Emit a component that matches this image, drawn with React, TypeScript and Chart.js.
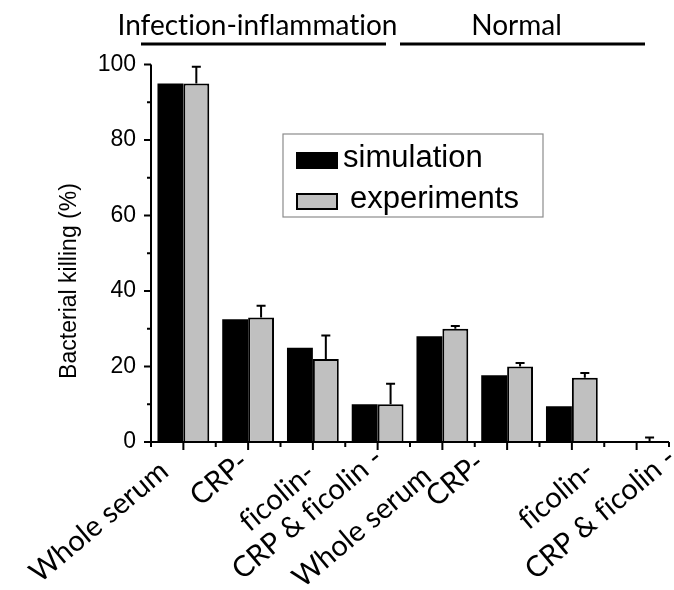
import React, { useEffect, useRef } from "react";
import { Chart, registerables } from "chart.js";

Chart.register(...registerables);

// Serum conditions, shown twice: infection-inflammation, then normal
const categories = [
  "Whole serum",
  "CRP-",
  "ficolin-",
  "CRP & ficolin -",
  "Whole serum",
  "CRP-",
  "ficolin-",
  "CRP & ficolin -",
];

// Bacterial killing (%)
const simulation = [95, 32.5, 25, 10, 28, 17.7, 9.5, 0];
const experiments = [95, 33, 22, 10, 30, 20, 17, 0];
const experimentsError = [4.4, 3.1, 6.2, 5.4, 0.7, 0.9, 1.3, 1.2];

const groups = [
  { label: "Infection-inflammation", first: 0, last: 3 },
  { label: "Normal", first: 4, last: 7 },
];

const yMajorTicks = [0, 20, 40, 60, 80, 100];
const yMinorTicks = [10, 30, 50, 70, 90];
const yTitle = "Bacterial killing (%)";

// slanted category labels: right end of each label, relative to its tick
const labelDx = [-19, -4, -2, 1, -15, -27, 18, 35];
const labelDy = [25, 16, 27, 12, 30, 17, 25, 12];
const labelAngle = 40;

const LABEL_FONT = "Lato, 'Open Sans', sans-serif";
const ARIAL = "'Liberation Sans', Arial, sans-serif";

const decorPlugin = {
  id: "figureDecor",
  afterDatasetsDraw(chart: any) {
    const { ctx, chartArea } = chart;
    const xs = chart.scales.x;
    const ys = chart.scales.y;
    const n = categories.length;
    const catW = (xs.right - xs.left) / n;

    ctx.save();
    ctx.strokeStyle = "#000";
    ctx.fillStyle = "#000";
    ctx.lineCap = "butt";

    // error bars (upper half only) on the experimental bars
    const meta = chart.getDatasetMeta(1);
    ctx.lineWidth = 2;
    meta.data.forEach((bar: any, i: number) => {
      const v = experiments[i];
      const yTop = ys.getPixelForValue(v + experimentsError[i]);
      const yBar = ys.getPixelForValue(v);
      ctx.beginPath();
      ctx.moveTo(bar.x, yBar);
      ctx.lineTo(bar.x, yTop);
      ctx.moveTo(bar.x - 4.5, yTop);
      ctx.lineTo(bar.x + 4.5, yTop);
      ctx.stroke();
    });

    // axis lines
    ctx.lineWidth = 2;
    ctx.beginPath();
    ctx.moveTo(chartArea.left, chartArea.top);
    ctx.lineTo(chartArea.left, chartArea.bottom + 1);
    ctx.moveTo(chartArea.left - 1, chartArea.bottom);
    ctx.lineTo(chartArea.right, chartArea.bottom);
    ctx.stroke();

    // y ticks, major and minor
    ctx.beginPath();
    yMajorTicks.forEach((v) => {
      const y = ys.getPixelForValue(v);
      ctx.moveTo(chartArea.left - 7, y);
      ctx.lineTo(chartArea.left, y);
    });
    yMinorTicks.forEach((v) => {
      const y = ys.getPixelForValue(v);
      ctx.moveTo(chartArea.left - 4, y);
      ctx.lineTo(chartArea.left, y);
    });
    // x ticks: long at category centres, short at category edges
    for (let i = 0; i < n; i++) {
      const x = xs.getPixelForValue(i);
      ctx.moveTo(x, chartArea.bottom);
      ctx.lineTo(x, chartArea.bottom + 8);
    }
    for (let i = 0; i <= n; i++) {
      const x = xs.left + i * catW;
      ctx.moveTo(x, chartArea.bottom);
      ctx.lineTo(x, chartArea.bottom + 5);
    }
    ctx.stroke();

    // text drawn without ligatures
    (ctx as any).letterSpacing = "0.01px";

    // slanted category labels
    ctx.font = `29px ${LABEL_FONT}`;
    ctx.textAlign = "right";
    ctx.textBaseline = "middle";
    categories.forEach((label, i) => {
      const x = xs.getPixelForValue(i) + labelDx[i];
      const y = chartArea.bottom + labelDy[i];
      ctx.save();
      ctx.translate(x, y);
      ctx.rotate((-labelAngle * Math.PI) / 180);
      ctx.fillText(label, 0, 0);
      ctx.restore();
    });

    // y axis title
    ctx.save();
    ctx.font = `23px ${ARIAL}`;
    ctx.textAlign = "center";
    ctx.textBaseline = "middle";
    ctx.translate(70, chartArea.bottom - 161);
    ctx.rotate(-Math.PI / 2);
    ctx.fillText(yTitle, 0, 0);
    ctx.restore();

    // group headers with rules underneath
    ctx.font = `28px ${LABEL_FONT}`;
    ctx.textAlign = "center";
    ctx.textBaseline = "alphabetic";
    ctx.lineWidth = 3;
    groups.forEach((g) => {
      const left = xs.getPixelForValue(g.first) - catW / 2 - 10;
      const right = xs.getPixelForValue(g.last) + catW / 2 - 24;
      const y = chartArea.top - 20.5;
      ctx.beginPath();
      ctx.moveTo(left, y);
      ctx.lineTo(right, y);
      ctx.stroke();
      ctx.fillText(g.label, (left + right) / 2 - 6, chartArea.top - 29.5);
    });

    // legend box
    const bx = chartArea.left + 132;
    const by = chartArea.top + 69.5;
    ctx.lineWidth = 1.2;
    ctx.strokeStyle = "#8c8c8c";
    ctx.strokeRect(bx, by, 260, 83);
    ctx.font = `31px ${ARIAL}`;
    ctx.textAlign = "left";
    ctx.textBaseline = "alphabetic";
    const rows = [
      { swY: by + 18, txX: bx + 60, txY: by + 33 },
      { swY: by + 59, txX: bx + 67, txY: by + 74 },
    ];
    chart.data.datasets.forEach((ds: any, i: number) => {
      const r = rows[i];
      const sx = bx + 13;
      const sw = 42;
      const sh = 17;
      ctx.fillStyle = ds.backgroundColor;
      ctx.fillRect(sx, r.swY, sw, sh);
      if (ds.borderWidth > 0) {
        ctx.strokeStyle = ds.borderColor;
        ctx.lineWidth = ds.borderWidth;
        ctx.strokeRect(sx + 1, r.swY + 1, sw - 2, sh - 2);
      }
      ctx.fillStyle = "#000";
      ctx.fillText(ds.label, r.txX, r.txY);
    });

    ctx.restore();
  },
};

export default function App() {
  const canvasRef = useRef<HTMLCanvasElement | null>(null);

  useEffect(() => {
    const canvas = canvasRef.current;
    if (!canvas) return;
    const chart = new Chart(canvas, {
      type: "bar",
      data: {
        labels: categories,
        datasets: [
          {
            label: "simulation",
            data: simulation,
            backgroundColor: "#000000",
            borderColor: "#000000",
            borderWidth: 0,
            categoryPercentage: 0.8,
            barPercentage: 1.0,
          },
          {
            label: "experiments",
            data: experiments,
            backgroundColor: "#c0c0c0",
            borderColor: "#000000",
            borderWidth: 2,
            categoryPercentage: 0.8,
            barPercentage: 1.0,
          },
        ],
      },
      plugins: [decorPlugin],
      options: {
        animation: false,
        responsive: false,
        devicePixelRatio: 1,
        layout: { padding: { left: 0, top: 64.5, right: 5, bottom: 0 } },
        plugins: {
          legend: { display: false },
          tooltip: { enabled: false },
        },
        scales: {
          x: {
            type: "category",
            offset: true,
            grid: { display: false, drawTicks: false },
            border: { display: false },
            ticks: { display: false },
            afterFit: (scale: any) => {
              scale.height = 148;
            },
          },
          y: {
            min: 0,
            max: 100,
            grid: { display: false, drawTicks: false },
            border: { display: false },
            ticks: {
              stepSize: 20,
              padding: 15,
              color: "#000",
              font: { family: ARIAL, size: 23 },
            },
            afterFit: (scale: any) => {
              scale.width = 151;
            },
          },
        },
      },
    });
    return () => chart.destroy();
  }, []);

  return (
    <div style={{ position: "fixed", left: 0, top: 0, width: 674, height: 590, background: "#fff" }}>
      <canvas ref={canvasRef} width={674} height={590} />
    </div>
  );
}
